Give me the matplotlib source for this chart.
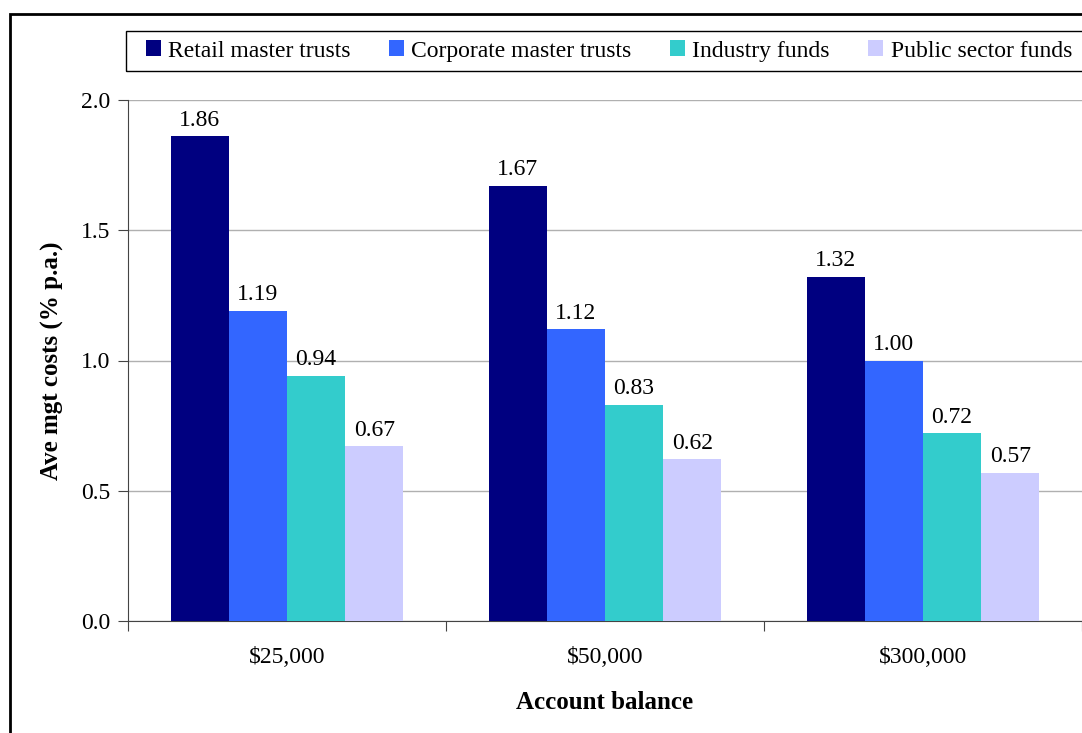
import numpy as np
import matplotlib.pyplot as plt
from matplotlib.patches import Rectangle

# values
balances = ['$25,000', '$50,000', '$300,000']
series = ['Retail master trusts', 'Corporate master trusts', 'Industry funds', 'Public sector funds']
retail = [1.86, 1.67, 1.32]
corporate = [1.19, 1.12, 1.00]
industry = [0.94, 0.83, 0.72]
public = [0.67, 0.62, 0.57]
colors = ['#000080', '#3366FF', '#33CCCC', '#CCCCFF']

plt.rcParams['font.family'] = ['Liberation Serif', 'DejaVu Serif']

fig = plt.figure(figsize=(10.82, 7.33), dpi=100)
ax = fig.add_axes([128 / 1082, 1 - 621 / 733, 1 - 128 / 1082, (621 - 100) / 733])

x = np.arange(len(balances))
w = 0.183
for i, (vals, name) in enumerate(zip([retail, corporate, industry, public], series)):
    pos = x + (i - 1.5) * w
    ax.bar(pos, vals, width=w, color=colors[i], label=name, zorder=3)
    for p, v in zip(pos, vals):
        ax.text(p, v + 0.022, f'{v:.2f}', ha='center', va='bottom', fontsize=17)

ax.set_xlim(-0.5, 2.5)
ax.set_ylim(0, 2.0)
ax.set_yticks([0, 0.5, 1.0, 1.5, 2.0])
ax.set_yticklabels(['0.0', '0.5', '1.0', '1.5', '2.0'])
ax.yaxis.grid(True, color='#b0b0b0', linewidth=1, zorder=0)
ax.set_axisbelow(True)

# category boundary ticks, labels in between
ax.set_xticks([-0.5, 0.5, 1.5, 2.5])
ax.set_xticklabels([])
ax.set_xticks(x, minor=True)
ax.set_xticklabels(balances, minor=True)
ax.tick_params(axis='x', which='minor', length=0, pad=19, labelsize=17)
ax.tick_params(axis='x', which='major', length=7, direction='out', color='#444444')
ax.tick_params(axis='y', length=7, direction='out', labelsize=17, color='#444444', pad=6)

for s in ['top', 'right']:
    ax.spines[s].set_visible(False)
ax.spines['left'].set_color('#444444')
ax.spines['bottom'].set_color('#444444')

ax.set_xlabel('Account balance', fontsize=18, fontweight='bold', labelpad=16)
ax.set_ylabel('Ave mgt costs (% p.a.)', fontsize=18, fontweight='bold', labelpad=12)

# outer chart frame and legend frame
fig.patches.append(Rectangle((10 / 1082, -0.1), 1.2, 1 - 14 / 733 + 0.1,
                             transform=fig.transFigure, fill=False,
                             edgecolor='black', linewidth=2))
fig.patches.append(Rectangle((126 / 1082, 1 - 71 / 733), 1.2, 40 / 733,
                             transform=fig.transFigure, fill=False,
                             edgecolor='black', linewidth=1))

fig.legend(loc='center left', bbox_to_anchor=(134 / 1082, 1 - 51 / 733), ncol=4,
           frameon=False, fontsize=17, handlelength=0.65, handleheight=0.65,
           handletextpad=0.3, columnspacing=1.62, borderpad=0)

fig.savefig('out.png', dpi=100)
